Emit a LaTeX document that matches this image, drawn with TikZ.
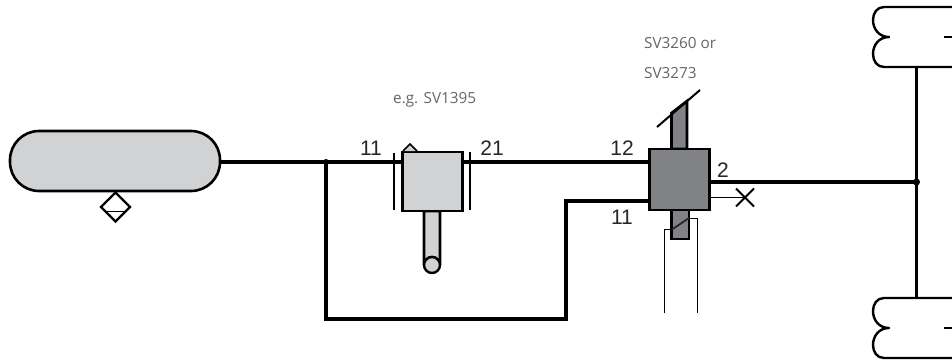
\documentclass[tikz,border=0pt]{standalone}
\usepackage{fontspec}
\usetikzlibrary{shapes.geometric}
\setmainfont{Liberation Sans}
\newfontfamily\notefont{Open Sans}
\definecolor{lightfill}{HTML}{D1D2D4}
\definecolor{darkfill}{HTML}{808285}
\tikzset{
	pipe/.style={draw,line width=3.8pt},
	thinpipe/.style={draw,line width=1.4pt},
	body/.style={draw,line width=2.8pt,fill=lightfill,minimum width=60pt,minimum height=59pt,inner sep=0pt,outer sep=0pt},
	port/.style={font=\fontsize{21}{21}\selectfont,text=black!85},
	note/.style={font=\notefont\fontsize{15.3}{15.3}\selectfont,text=black!60,anchor=west,inner sep=0pt},
	joint/.style={circle,fill=black,minimum size=7pt,inner sep=0pt}
}
\begin{document}
\begin{tikzpicture}[x=1pt,y=-1pt]
	\useasboundingbox (0,0) rectangle (952,359);
	% stems first, the boxes sit on top of them
	\draw[line width=2.6pt,fill=lightfill] (424,211) -- (424,265) arc[start angle=180,end angle=360,radius=8] -- (440,211) -- cycle;
	\draw[line width=2.6pt,fill=darkfill] (671.5,149) -- (671.5,113) -- (687,101) -- (687,149) -- cycle;
	\draw[line width=2.6pt,fill=darkfill] (671.5,210) -- (671.5,239) -- (689,239) -- (689,210) -- cycle;

	\node[draw,line width=2.6pt,fill=lightfill,rounded corners=29pt,minimum width=210pt,minimum height=60pt,inner sep=0pt] (tank) at (115,161) {};
	\node[draw,line width=2.4pt,fill=white,diamond,minimum width=30pt,minimum height=30pt,inner sep=0pt] (drain) at (115.5,207) {};
	\draw[line width=1.8pt] (107,211.5) -- (124,211.5);

	\node[body] (relay) at (432.5,181.5) {};
	\node[body,fill=darkfill,minimum height=61pt] (brake) at (679.5,179.5) {};
	\node[circle,draw,line width=2.4pt,fill=lightfill,minimum size=16pt,inner sep=0pt] (lever) at (432,265) {};
	\draw[line width=1.6pt,fill=lightfill] (403,151) -- (410,144) -- (417,151);

	\coordinate (tee) at (326,162);
	\coordinate (axle) at (916.5,182);
	\coordinate (c1) at (566,201);
	\coordinate (c2) at (566,319);
	\coordinate (c3) at (326,319);
	\coordinate (cross) at (745,197.5);

	\path[pipe] (tank.east |- tee) -- (relay.west |- tee);
	\path[pipe] (relay.east |- tee) -- (brake.west |- tee);
	\path[pipe] (brake.west |- c1) -- (c1) -- (c2) -- (c3) -- (tee);
	\path[pipe] (brake.east |- axle) -- (axle);
	\path[thinpipe] (brake.east |- cross) -- (cross);
	\node[joint,minimum size=6pt] (j1) at (tee) {};
	\node[joint,minimum size=7pt] (j2) at (axle) {};

	% bars beside the relay valve
	\draw[line width=2pt] (394,153) -- (394,210);
	\draw[line width=2pt] (469.5,152) -- (469.5,210);

	% foot plate and spring marks
	\draw[line width=2pt] (657,127) -- (700,90);
	\draw[line width=1.8pt] (736,188.5) -- (754,206.5);
	\draw[line width=1.8pt] (736,206.5) -- (754,188.5);
	\draw[line width=1pt] (664,313) -- (664,229.5) -- (672,229.5);
	\draw[line width=1.8pt,black!85] (672,229.5) -- (689,218);
	\draw[line width=1pt] (689,218) -- (697,218) -- (697,313);

	% axle and wheels
	\path[draw,line width=3pt] (916.5,67) -- (916.5,298);
	\foreach \ytop in {7, 298}
	{
		\begin{scope}[yshift=-\ytop pt]
			\draw[line width=2.4pt,line join=round] (952,0) -- (884,0) .. controls (877,0) and (873,6) .. (873,13) .. controls (873,22) and (879,30) .. (889,30) .. controls (879,30) and (873,38) .. (873,47) .. controls (873,54) and (877,60) .. (884,60) -- (952,60);
			\draw[line width=2.6pt] (944,30) -- (952,30);
		\end{scope}
	}

	\node[port] (p11a) at (371,148) {11};
	\node[port] (p21) at (492,148) {21};
	\node[port] (p12) at (622,148) {12};
	\node[port] (p11b) at (622,217) {11};
	\node[port] (p2) at (723,170) {2};
	\node[note] (n1) at (393,100) {e.g. SV1395};
	\node[note] (n2) at (644,43) {SV3260 or};
	\node[note] (n3) at (644,73) {SV3273};
\end{tikzpicture}
\end{document}
